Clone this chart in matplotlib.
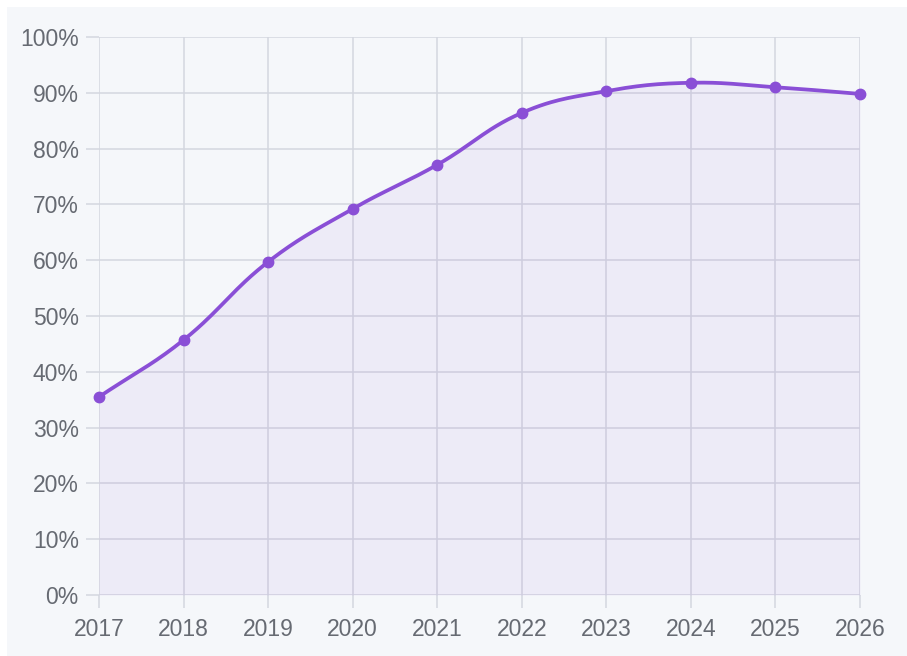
import numpy as np
import matplotlib.pyplot as plt
from matplotlib.patches import Rectangle
from matplotlib.ticker import FuncFormatter

# yearly share, in percent
years = [2017, 2018, 2019, 2020, 2021, 2022, 2023, 2024, 2025, 2026]
share = [35.5, 45.7, 59.7, 69.2, 77.1, 86.4, 90.3, 91.8, 91.0, 89.8]

LINE = "#8a4fd6"
GRID = "#d4d7df"
BG = "#f5f7fa"
TEXT = "#666a72"


def smooth(xs, ys, tension=0.4, sx=84.5, sy=5.58, n=30):
    # bezier spline through the points (control points in pixel-like units)
    px = np.array(xs, float) * sx
    py = np.array(ys, float) * sy
    m = len(px)
    cps = []
    for i in range(m):
        prev = (px[max(i - 1, 0)], py[max(i - 1, 0)])
        nxt = (px[min(i + 1, m - 1)], py[min(i + 1, m - 1)])
        cur = (px[i], py[i])
        d01 = np.hypot(cur[0] - prev[0], cur[1] - prev[1])
        d12 = np.hypot(nxt[0] - cur[0], nxt[1] - cur[1])
        tot = d01 + d12 if d01 + d12 else 1
        fa = tension * d01 / tot
        fb = tension * d12 / tot
        dx, dy = nxt[0] - prev[0], nxt[1] - prev[1]
        cps.append(((cur[0] - fa * dx, cur[1] - fa * dy),
                    (cur[0] + fb * dx, cur[1] + fb * dy)))
    outx, outy = [], []
    t = np.linspace(0, 1, n)
    for i in range(m - 1):
        p0 = np.array([px[i], py[i]])
        p1 = np.array(cps[i][1])
        p2 = np.array(cps[i + 1][0])
        p3 = np.array([px[i + 1], py[i + 1]])
        b = ((1 - t) ** 3)[:, None] * p0 + (3 * (1 - t) ** 2 * t)[:, None] * p1 \
            + (3 * (1 - t) * t ** 2)[:, None] * p2 + (t ** 3)[:, None] * p3
        outx.extend(b[:, 0])
        outy.extend(b[:, 1])
    return np.array(outx) / sx, np.array(outy) / sy


plt.rcParams['font.family'] = ['Liberation Sans', 'DejaVu Sans']

fig = plt.figure(figsize=(9.07, 6.56), dpi=100, facecolor="white")
fig.patches.append(Rectangle((7 / 907, 0), 1, 1 - 7 / 656, transform=fig.transFigure,
                             facecolor=BG, edgecolor="none", zorder=-10))

ax = fig.add_axes([99 / 907, 61 / 656, 761 / 907, 558 / 656])
ax.set_facecolor(BG)

sx, sy = smooth(years, share)
ax.fill_between(sx, sy, 0, color=LINE, alpha=0.07, lw=0, zorder=2)
ax.plot(sx, sy, color=LINE, lw=2.7, zorder=3, solid_capstyle="round", clip_on=False)
ax.plot(years, share, "o", color=LINE, ms=7.5, zorder=4, clip_on=False)

ax.set_xlim(2017, 2026)
ax.set_ylim(0, 100)
ax.set_xticks(years)
ax.set_yticks(range(0, 101, 10))
ax.yaxis.set_major_formatter(FuncFormatter(lambda v, p: f"{int(v)}%"))

ax.grid(True, color=GRID, lw=1.1, zorder=1)
ax.set_axisbelow(True)
for s in ax.spines.values():
    s.set_visible(False)
ax.tick_params(axis="both", length=9.5, width=1.1, color=GRID,
               labelcolor=TEXT, labelsize=16.5)
ax.tick_params(axis="y", pad=5)
ax.tick_params(axis="x", pad=7)

fig.savefig("out.png", dpi=100, facecolor="white")
